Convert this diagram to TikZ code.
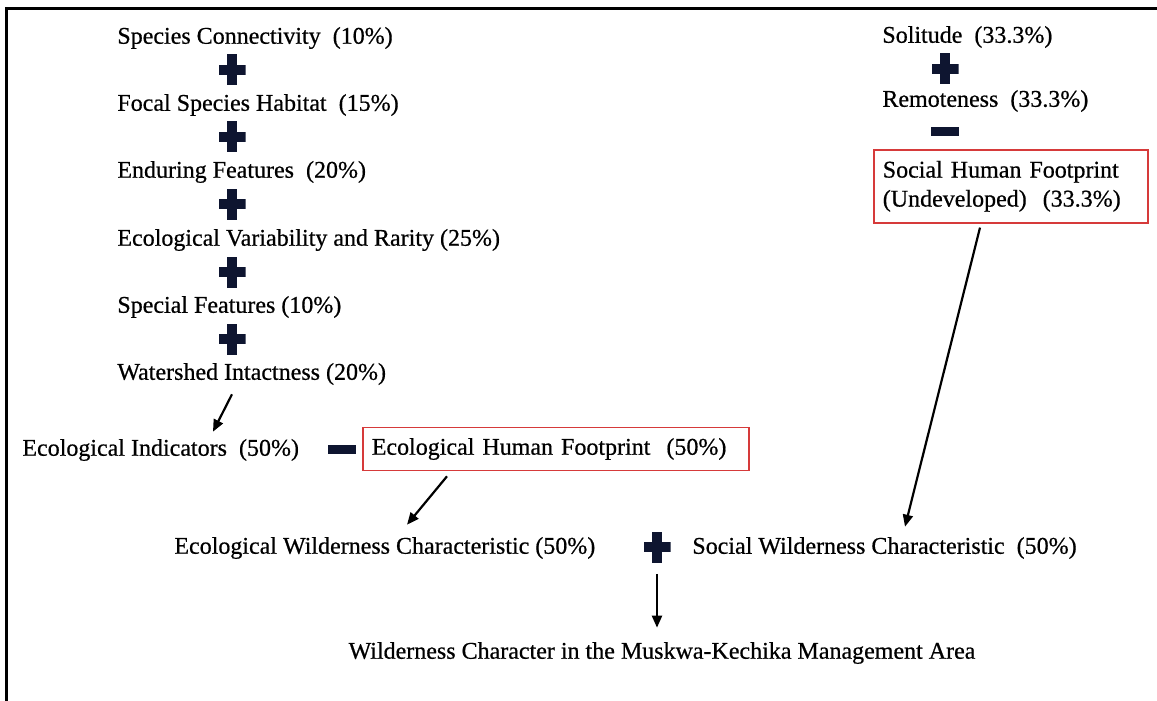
\documentclass[tikz,border=0pt]{standalone}
\usepackage{fontspec}
\setmainfont{Liberation Serif}[FakeBold=0.6]
\usepackage{xcolor}
\usetikzlibrary{arrows.meta, positioning, calc}
\definecolor{opblue}{HTML}{0E1530}
\definecolor{boxred}{HTML}{D63A3A}

\begin{document}
\begin{tikzpicture}[x=0.5pt, y=-0.5pt,
  item/.style={anchor=west, inner sep=0pt, font=\fontsize{12}{14.5}\selectfont},
  redbox/.style={draw=boxred, line width=0.8pt, inner xsep=4.5pt, inner ysep=0pt, align=left, font=\fontsize{12}{14.5}\selectfont},
  opplus/.style={rectangle, minimum width=13.5pt, minimum height=15.5pt, inner sep=0pt,
    path picture={
      \fill[opblue] ([yshift=-2.6pt]path picture bounding box.west) rectangle ([yshift=2.6pt]path picture bounding box.east);
      \fill[opblue] ([xshift=-2.6pt]path picture bounding box.south) rectangle ([xshift=2.6pt]path picture bounding box.north);
    }},
  opminus/.style={rectangle, fill=opblue, minimum width=14pt, minimum height=4.5pt, inner sep=0pt},
  arrow/.style={-{Triangle[length=6pt,width=5pt]}, line width=1.1pt}
]
  \useasboundingbox (0,0) rectangle (1157,701);

  % Frame
  \draw[line width=1.5pt] (6.5,701) -- (6.5,8.5) -- (1157,8.5);

  % Ecological indicators
  \node[item] (sc) at (117,38) {Species Connectivity\ \ (10\%)};
  \node[opplus] (p1) at (232,70) {};
  \node[item] (fs) at (117,105) {Focal Species Habitat\ \ (15\%)};
  \node[opplus] (p2) at (232,137) {};
  \node[item] (ef) at (117,172) {Enduring Features\ \ (20\%)};
  \node[opplus] (p3) at (232,204) {};
  \node[item] (ev) at (117,240) {Ecological Variability and Rarity (25\%)};
  \node[opplus] (p4) at (232,272) {};
  \node[item] (sf) at (117,307) {Special Features (10\%)};
  \node[opplus] (p5) at (232,339) {};
  \node[item] (wi) at (117,374) {Watershed Intactness (20\%)};

  \node[item] (ei) at (22,450) {Ecological Indicators\ \ (50\%)};
  \node[opminus] (m1) at (342,449) {};
  \node[redbox, anchor=west, text width=184pt, minimum height=21.5pt] (ehf) at (362,449) {Ecological Human Footprint\ \ (50\%)};

  % Social indicators
  \node[item] (sol) at (882,37) {Solitude\ \ (33.3\%)};
  \node[opplus] (p6) at (945,69) {};
  \node[item] (rem) at (882,101) {Remoteness\ \ (33.3\%)};
  \node[opminus] (m2) at (945,132) {};
  \node[redbox, anchor=north west, text width=128pt, minimum height=36.5pt] (shf) at (873,149) {Social Human Footprint\\(Undeveloped)\ \ (33.3\%)};

  % Characteristics
  \node[item] (ewc) at (174,548) {Ecological Wilderness Characteristic (50\%)};
  \node[opplus] (pb) at (657,547) {};
  \node[item] (swc) at (692,548) {Social Wilderness Characteristic\ \ (50\%)};
  \node[item, anchor=center] (wc) at (662,653) {Wilderness Character in the Muskwa-Kechika Management Area};

  % Arrows
  \draw[arrow] ($(wi.south west)+(115,9)$) -- ($(ei.north west)+(191,-7)$);
  \draw[arrow] ($(ehf.south west)+(85,5)$) -- ($(ewc.north west)+(233,-12)$);
  \draw[arrow] ($(shf.south west)+(107,4)$) -- ($(swc.north west)+(213,-10)$);
  \draw[arrow] ($(pb.south)+(0,11)$) -- ($(pb.south |- wc.north)+(0,-14)$);
\end{tikzpicture}
\end{document}
